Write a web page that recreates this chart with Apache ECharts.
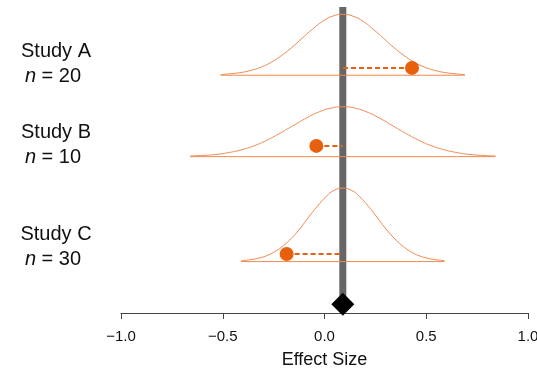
<!DOCTYPE html>
<html>
<head>
<meta charset="utf-8">
<script src="https://cdn.jsdelivr.net/npm/echarts@6/dist/echarts.min.js"></script>
<style>
  html, body { margin: 0; padding: 0; background: #fff; }
  #chart { width: 537px; height: 371px; }
</style>
</head>
<body>
<div id="chart"></div>
<script>
// studies, top to bottom
const studies = ['Study A', 'Study B', 'Study C'];
const sampleSizes = [20, 10, 30];
// row baselines on the hidden y axis
const baselines = [7.77, 5.11, 1.68];

// density curves: x positions and heights above baseline
const curveX = [
    [-0.51, -0.46, -0.41, -0.36, -0.31, -0.26, -0.21, -0.16, -0.11, -0.06, -0.01, 0.04, 0.09,
     0.14, 0.19, 0.24, 0.29, 0.34, 0.39, 0.44, 0.49, 0.54, 0.59, 0.64, 0.69],
    [-0.66, -0.598, -0.535, -0.473, -0.41, -0.348, -0.285, -0.223, -0.16, -0.098, -0.035, 0.028, 0.09,
     0.153, 0.215, 0.278, 0.34, 0.403, 0.465, 0.528, 0.59, 0.653, 0.715, 0.778, 0.84],
    [-0.41, -0.368, -0.327, -0.285, -0.243, -0.202, -0.16, -0.118, -0.077, -0.035, 0.007, 0.048, 0.09,
     0.132, 0.173, 0.215, 0.257, 0.298, 0.34, 0.382, 0.423, 0.465, 0.507, 0.548, 0.59]
];
const curveY = [
    [0.02, 0.05, 0.09, 0.16, 0.27, 0.43, 0.65, 0.91, 1.21, 1.50, 1.76, 1.93, 1.99,
     1.93, 1.76, 1.50, 1.21, 0.91, 0.65, 0.43, 0.27, 0.16, 0.09, 0.05, 0.02],
    [0.02, 0.04, 0.07, 0.13, 0.22, 0.35, 0.53, 0.75, 0.99, 1.23, 1.44, 1.58, 1.63,
     1.58, 1.44, 1.23, 0.99, 0.75, 0.53, 0.35, 0.22, 0.13, 0.07, 0.04, 0.02],
    [0.03, 0.06, 0.11, 0.19, 0.33, 0.52, 0.78, 1.10, 1.46, 1.81, 2.12, 2.33, 2.40,
     2.33, 2.12, 1.81, 1.46, 1.10, 0.78, 0.52, 0.33, 0.19, 0.11, 0.06, 0.03]
];

// observed effect per study (point) and its height above baseline
const effects = [0.43, -0.04, -0.186];
const effectLift = [0.24, 0.35, 0.25];

// pooled estimate
const pooled = 0.09;
const pooledY = 0.29;
const lineTop = 10;

const orange = '#EE8A50';
const dotOrange = '#E8600E';
const font = '"Liberation Sans", Arial, Helvetica, sans-serif';

const chart = echarts.init(document.getElementById('chart'));

const series = [];

// grey vertical line at the pooled estimate
series.push({
    type: 'line',
    data: [[pooled, pooledY], [pooled, lineTop]],
    symbol: 'none',
    lineStyle: { color: '#666', width: 7 },
    z: 1,
    silent: true
});

studies.forEach((name, i) => {
    const base = baselines[i];
    const xs = curveX[i];
    series.push({
        type: 'line',
        data: xs.map((x, j) => [x, base + curveY[i][j]]),
        smooth: true,
        symbol: 'none',
        lineStyle: { color: orange, width: 1 },
        z: 2,
        silent: true
    });
    series.push({
        type: 'line',
        data: [[xs[0], base], [xs[xs.length - 1], base]],
        symbol: 'none',
        lineStyle: { color: orange, width: 1 },
        z: 2,
        silent: true
    });
    const dy = base + effectLift[i];
    series.push({
        type: 'line',
        data: [[effects[i], dy], [pooled, dy]],
        symbol: 'none',
        lineStyle: { color: dotOrange, width: 2, type: [5, 3] },
        z: 3,
        silent: true
    });
    series.push({
        type: 'scatter',
        data: [[effects[i], dy]],
        symbol: 'circle',
        symbolSize: 14,
        itemStyle: { color: dotOrange, opacity: 1 },
        z: 4,
        silent: true
    });
});

// pooled diamond
series.push({
    type: 'scatter',
    data: [[pooled, pooledY]],
    symbol: 'diamond',
    symbolSize: [23, 23],
    itemStyle: { color: '#000', opacity: 1 },
    z: 5,
    silent: true
});

const labels = [];
studies.forEach((name, i) => {
    const labelY = [51, 132, 234][i];
    labels.push({
        type: 'text',
        x: 56,
        y: labelY,
        style: {
            text: name,
            font: '20px ' + font,
            fill: '#111',
            align: 'center',
            verticalAlign: 'middle'
        }
    });
    labels.push({
        type: 'text',
        x: 53,
        y: labelY + 25,
        style: {
            text: '{i|n} = ' + sampleSizes[i],
            font: '20px ' + font,
            fill: '#111',
            align: 'center',
            verticalAlign: 'middle',
            rich: {
                i: { fontStyle: 'italic', fontSize: 20, fontFamily: font, fill: '#111' }
            }
        }
    });
});

const option = {
    animation: false,
    backgroundColor: '#fff',
    grid: { left: 121, right: 9, top: 7, bottom: 58, outerBoundsMode: 'none' },
    xAxis: {
        type: 'value',
        min: -1,
        max: 1,
        interval: 0.5,
        name: 'Effect Size',
        nameLocation: 'middle',
        nameGap: 38,
        nameTextStyle: { fontSize: 18, fontFamily: font, color: '#111' },
        splitLine: { show: false },
        axisLine: { show: true, onZero: false, lineStyle: { color: '#444', width: 1 } },
        axisTick: { show: true, length: 6, lineStyle: { color: '#444' } },
        axisLabel: {
            fontSize: 15,
            fontFamily: font,
            color: '#111',
            margin: 16,
            formatter: v => (v < 0 ? '\u2212' : '') + Math.abs(v).toFixed(1)
        }
    },
    yAxis: {
        type: 'value',
        min: 0,
        max: 10,
        show: false
    },
    graphic: labels,
    series: series
};

chart.setOption(option);
</script>
</body>
</html>
